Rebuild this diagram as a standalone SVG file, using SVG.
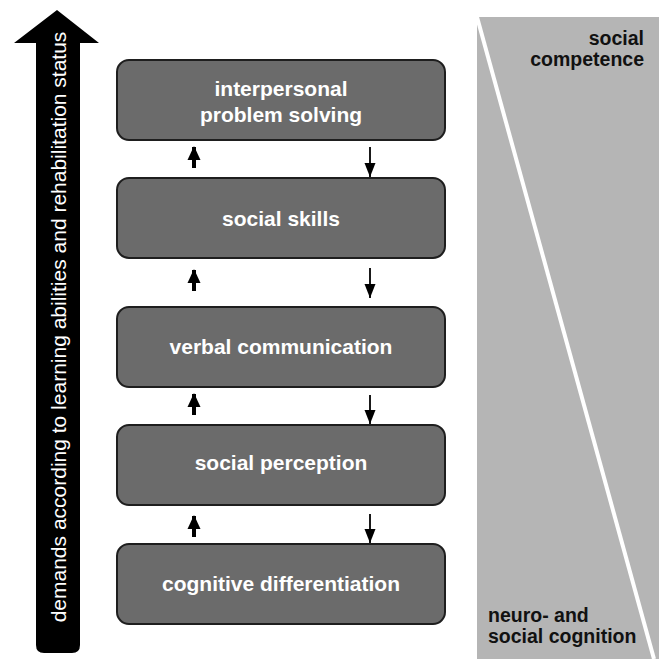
<svg xmlns="http://www.w3.org/2000/svg" width="659" height="659" viewBox="0 0 659 659">
  <style>
    .box { fill: #6b6b6b; stroke: #1e1e1e; stroke-width: 2; }
    .boxtext { font-family: "Liberation Sans", Arial, sans-serif; font-weight: bold; font-size: 21px; fill: #ffffff; text-anchor: middle; }
    .side { font-family: "Liberation Sans", Arial, sans-serif; font-weight: bold; font-size: 19.5px; fill: #111111; }
    .up { stroke: #000; stroke-width: 4; fill: none; }
    .down { stroke: #000; stroke-width: 1.8; fill: none; }
  </style>
  <defs>
    <!-- heads drawn along +x so orient="auto" turns them with the line -->
    <marker id="headUp" viewBox="0 0 14 14" refX="13" refY="7" markerWidth="14" markerHeight="14" markerUnits="userSpaceOnUse" orient="auto">
      <path d="M0,0.5 L14,7 L0,13.5 Z" fill="#000"/>
    </marker>
    <marker id="headDown" viewBox="0 0 14 12" refX="14" refY="6" markerWidth="14" markerHeight="12" markerUnits="userSpaceOnUse" orient="auto">
      <path d="M0,0.5 L14,6 L0,11.5 Z" fill="#000"/>
    </marker>
  </defs>
  <rect width="659" height="659" fill="#ffffff"/>

  <!-- right-hand band: social competence / neuro- and social cognition -->
  <g id="band">
    <rect x="477" y="17" width="182" height="642" fill="#b5b5b5"/>
    <line x1="477" y1="17" x2="654" y2="659" stroke="#ffffff" stroke-width="4"/>
    <text class="side" x="644" y="45" text-anchor="end">social</text>
    <text class="side" x="644" y="66" text-anchor="end">competence</text>
    <text class="side" x="488" y="622">neuro- and</text>
    <text class="side" x="488" y="643">social cognition</text>
  </g>

  <!-- demands axis arrow -->
  <g id="demands">
    <path d="M36,43 L14,43 L57,10 L99,43 L80,43 L80,645 Q80,653 72,653 L44,653 Q36,653 36,645 Z" fill="#000"/>
    <text transform="translate(65.5,327) rotate(-90)" font-family="Liberation Sans, Arial, sans-serif" font-size="21" fill="#ffffff" text-anchor="middle">demands according to learning abilities and rehabilitation status</text>
  </g>

  <g id="n1">
    <rect class="box" x="117" y="60" width="328" height="80" rx="12"/>
    <text class="boxtext" x="281" y="96">interpersonal</text>
    <text class="boxtext" x="281" y="122">problem solving</text>
  </g>
  <g id="n2">
    <rect class="box" x="117" y="178" width="328" height="80" rx="12"/>
    <text class="boxtext" x="281" y="226">social skills</text>
  </g>
  <g id="n3">
    <rect class="box" x="117" y="307" width="328" height="80" rx="12"/>
    <text class="boxtext" x="281" y="354">verbal communication</text>
  </g>
  <g id="n4">
    <rect class="box" x="117" y="425" width="328" height="80" rx="12"/>
    <text class="boxtext" x="281" y="470">social perception</text>
  </g>
  <g id="n5">
    <rect class="box" x="117" y="544" width="328" height="80" rx="12"/>
    <text class="boxtext" x="281" y="591">cognitive differentiation</text>
  </g>

  <g id="connectors">
    <line class="up" x1="194" y1="168" x2="194" y2="147" marker-end="url(#headUp)"/>
    <line class="down" x1="370" y1="147" x2="370" y2="177" marker-end="url(#headDown)"/>
    <line class="up" x1="194" y1="291" x2="194" y2="270" marker-end="url(#headUp)"/>
    <line class="down" x1="370" y1="268" x2="370" y2="298" marker-end="url(#headDown)"/>
    <line class="up" x1="194" y1="415" x2="194" y2="394" marker-end="url(#headUp)"/>
    <line class="down" x1="370" y1="395" x2="370" y2="424" marker-end="url(#headDown)"/>
    <line class="up" x1="194" y1="537" x2="194" y2="516" marker-end="url(#headUp)"/>
    <line class="down" x1="370" y1="514" x2="370" y2="543" marker-end="url(#headDown)"/>
  </g>
</svg>
